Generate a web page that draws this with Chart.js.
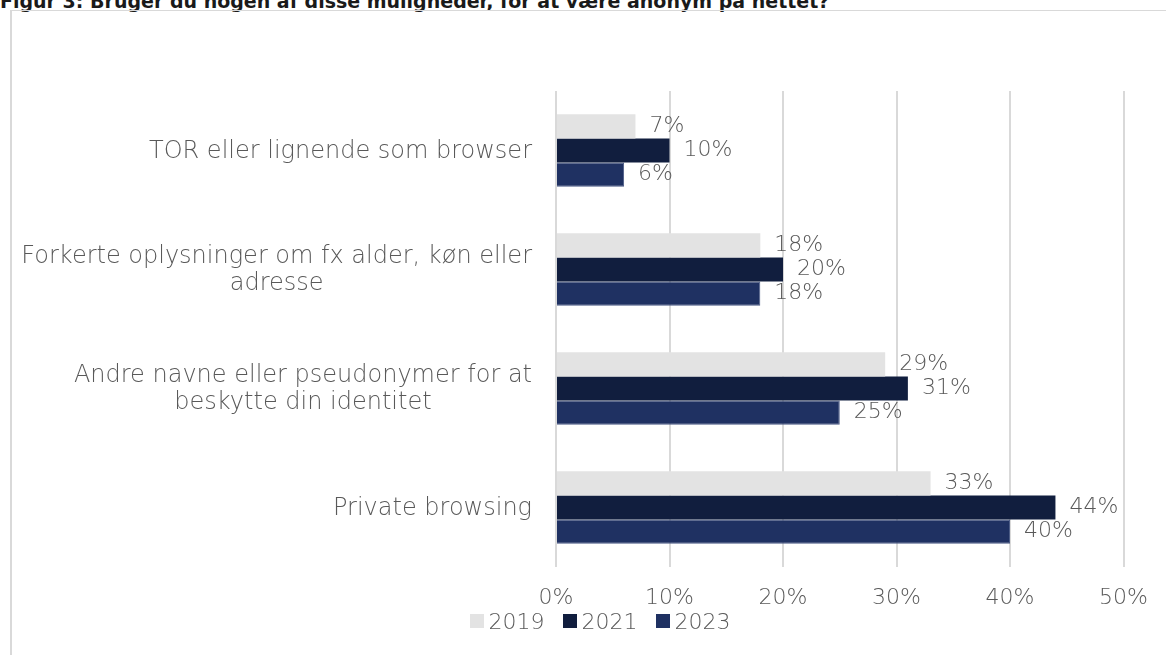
<!DOCTYPE html>
<html>
<head>
<meta charset="utf-8">
<script src="https://cdn.jsdelivr.net/npm/chart.js@4"></script>
<style>
  html, body { margin: 0; padding: 0; background: #fff; overflow: hidden; }
  #wrap { position: relative; width: 1166px; height: 655px; }
  #title {
    position: absolute; left: 0; top: -10px;
    font-family: "DejaVu Sans", sans-serif; font-weight: 700; font-size: 19px;
    color: #1a1a1a; white-space: nowrap;
  }
  #frame {
    position: absolute; left: 10px; top: 10px; width: 1200px; height: 700px;
    border-left: 2px solid #d9d9d9; border-top: 1px solid #d9d9d9;
  }
  canvas { position: absolute; left: 0; top: 0; }
  #legend {
    position: absolute; left: 0; width: 1200px; top: 608px; text-align: center;
    font-family: "DejaVu Sans", sans-serif; font-weight: 200; font-size: 22px;
    color: #595959; line-height: 28px; white-space: nowrap;
  }
  #legend .item { display: inline-block; margin: 0 9px; }
  #legend .box {
    display: inline-block; width: 14px; height: 14px; margin-right: 5px;
    vertical-align: 1px;
  }
</style>
</head>
<body>
<div id="wrap">
  <div id="title">Figur 3: Bruger du nogen af disse muligheder, for at være anonym på nettet?</div>
  <div id="frame"></div>
  <canvas id="chart" width="1166" height="655"></canvas>
  <div id="legend"></div>
</div>
<script>
const categories = [
  ["TOR eller lignende som browser"],
  ["Forkerte oplysninger om fx alder, køn eller", "adresse"],
  ["Andre navne eller pseudonymer for at", "beskytte din identitet"],
  ["Private browsing"],
];
const years = ["2019", "2021", "2023"];
const values2019 = [7, 18, 29, 33];
const values2021 = [10, 20, 31, 44];
const values2023 = [6, 18, 25, 40];
const xTicks = [0, 10, 20, 30, 40, 50];
const colors = ["#e3e3e3", "#111e3e", "#1f3162"];

const textColor = "#595959";
const fontFamily = "'DejaVu Sans', sans-serif";
const fontWeight = 200;

// y labels: right-aligned block, lines centered inside it
const yLabelPlugin = {
  id: "yLabels",
  afterDraw(chart) {
    const ctx = chart.ctx;
    const scale = chart.scales.y;
    ctx.save();
    ctx.font = fontWeight + " 24px " + fontFamily;
    ctx.fillStyle = textColor;
    ctx.textAlign = "center";
    ctx.textBaseline = "middle";
    const lineH = 27;
    categories.forEach((lines, i) => {
      const y = scale.getPixelForTick(i);
      const w = Math.max(...lines.map((l) => ctx.measureText(l).width));
      const cx = chart.chartArea.left - 24 - w / 2;
      lines.forEach((l, j) => {
        ctx.fillText(l, cx, y + 1 + (j - (lines.length - 1) / 2) * lineH);
      });
    });
    ctx.restore();
  },
};

const valueLabelPlugin = {
  id: "valueLabels",
  afterDatasetsDraw(chart) {
    const ctx = chart.ctx;
    ctx.save();
    ctx.font = fontWeight + " 22px " + fontFamily;
    ctx.fillStyle = textColor;
    ctx.textAlign = "left";
    ctx.textBaseline = "middle";
    chart.data.datasets.forEach((ds, di) => {
      chart.getDatasetMeta(di).data.forEach((bar, i) => {
        ctx.fillText(ds.data[i] + "%", bar.x + 14, bar.y);
      });
    });
    ctx.restore();
  },
};

const chart = new Chart(document.getElementById("chart"), {
  type: "bar",
  data: {
    labels: categories,
    datasets: [
      { label: years[0], data: values2019, backgroundColor: colors[0] },
      { label: years[1], data: values2021, backgroundColor: colors[1] },
      { label: years[2], data: values2023, backgroundColor: colors[2], borderColor: "#4a5a85", borderWidth: 1 },
    ],
  },
  options: {
    indexAxis: "y",
    responsive: false,
    animation: false,
    categoryPercentage: 0.61,
    barPercentage: 1.0,
    layout: { padding: { top: 91, right: 29, bottom: 45, left: 0 } },
    plugins: {
      legend: { display: false },
      tooltip: { enabled: false },
    },
    scales: {
      x: {
        min: 0,
        max: 50,
        afterBuildTicks(scale) {
          scale.ticks = xTicks.map((v) => ({ value: v }));
        },
        afterFit(scale) {
          scale.height = 43;
        },
        ticks: {
          color: textColor,
          font: { family: fontFamily, size: 22, weight: fontWeight },
          padding: 18,
          callback: (v) => v + "%",
        },
        grid: { color: "#d9d9d9", lineWidth: 2, drawTicks: false },
        border: { display: false },
      },
      y: {
        afterFit(scale) {
          scale.width = 556;
        },
        ticks: { display: false },
        grid: { display: false },
        border: { display: false },
      },
    },
  },
  plugins: [yLabelPlugin, valueLabelPlugin],
});

// legend built from the datasets
const legendEl = document.getElementById("legend");
chart.data.datasets.forEach((ds) => {
  const item = document.createElement("span");
  item.className = "item";
  const box = document.createElement("span");
  box.className = "box";
  box.style.background = ds.backgroundColor;
  item.appendChild(box);
  item.appendChild(document.createTextNode(ds.label));
  legendEl.appendChild(item);
});
</script>
</body>
</html>
